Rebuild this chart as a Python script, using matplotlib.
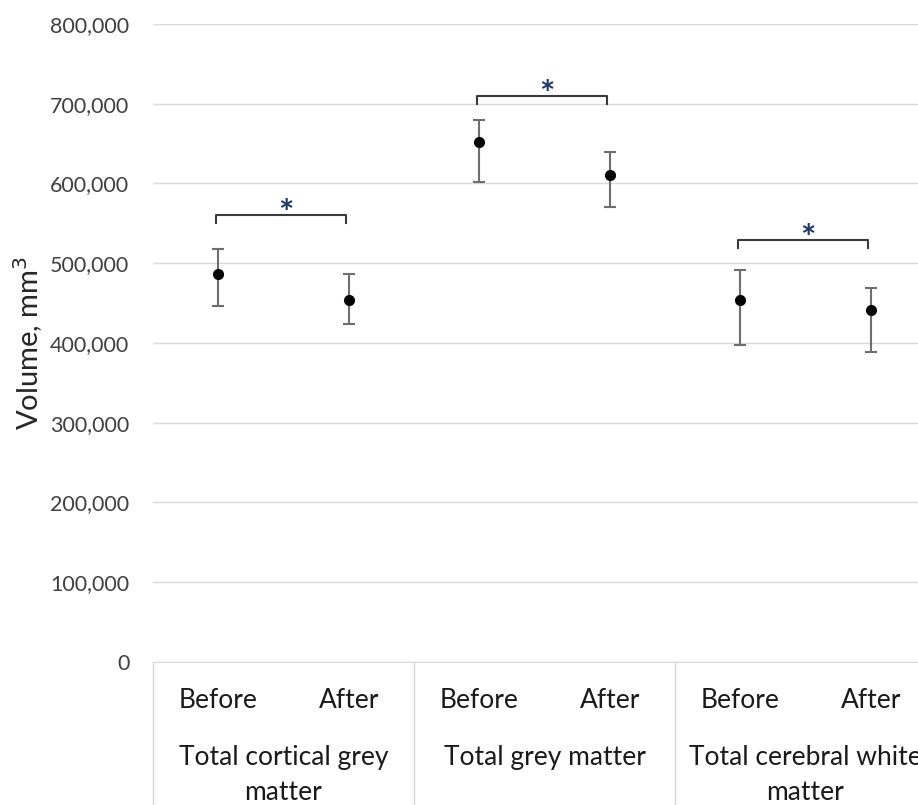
import numpy as np
import matplotlib.pyplot as plt
from matplotlib.ticker import FuncFormatter
import matplotlib.transforms as mtransforms

plt.rcParams['font.family'] = ['Lato', 'DejaVu Sans']

# Volumes (mm^3) before/after, per region
groups = ['Total cortical grey\nmatter', 'Total grey matter', 'Total cerebral white\nmatter']
phases = ['Before', 'After']
means = [486000, 454000, 652000, 611000, 454000, 442000]
upper = [518000, 486000, 680000, 640000, 491000, 469000]
lower = [447000, 424000, 602000, 571000, 397000, 389000]
# height of the significance bracket over each pair
bracket_y = [561000, 710000, 529000]

fig = plt.figure(figsize=(9.18, 8.05), dpi=100)
ax = fig.add_axes([153 / 918, 143 / 805, 783 / 918, 638 / 805])

x = np.arange(len(means)) + 0.5
m = np.array(means)
yerr = [m - np.array(lower), np.array(upper) - m]

ax.errorbar(x, m, yerr=yerr, fmt='o', color='black', markersize=7,
            ecolor='#6e6e6e', elinewidth=1.5, capsize=4.5, capthick=1.5, zorder=3)

# significance brackets
for i, by in enumerate(bracket_y):
    x0, x1 = x[2 * i], x[2 * i + 1]
    drop = 10000
    ax.plot([x0 - 0.02, x0 - 0.02, x1 - 0.02, x1 - 0.02], [by - drop, by, by, by - drop],
            color='#3a3a3a', lw=1.5, zorder=3)
    ax.text((x0 + x1) / 2 + 0.02, by - 13000, '*', ha='center', va='baseline',
            fontsize=26, fontweight='bold', color='#1f3864')

ax.set_xlim(0, 6)
ax.set_ylim(0, 800000)
ax.set_yticks(np.arange(0, 800001, 100000))
ax.yaxis.set_major_formatter(FuncFormatter(lambda v, p: f'{int(v):,}'))
ax.tick_params(axis='y', length=0, pad=17, labelsize=15.5, labelcolor='#404040')
ax.set_xticks([])
ax.grid(axis='y', color='#d9d9d9', lw=1)
ax.set_axisbelow(True)
for s in ['top', 'right', 'left']:
    ax.spines[s].set_visible(False)
ax.spines['bottom'].set_color('#d9d9d9')

ax.set_ylabel('Volume, mm$^3$', fontsize=21, color='#262626', labelpad=4)

# two-level category axis
trans = mtransforms.blended_transform_factory(ax.transData, ax.transAxes)
for k in range(len(groups) + 1):
    ax.plot([2 * k, 2 * k], [0, -0.3], transform=trans, color='#d9d9d9',
            lw=1, clip_on=False)
for j, xi in enumerate(x):
    ax.text(xi, -0.06, phases[j % 2], transform=trans, ha='center', va='center',
            fontsize=19, color='#1a1a1a')
for i, g in enumerate(groups):
    ax.text(2 * i + 1, -0.13, g, transform=trans, ha='center', va='top',
            fontsize=19, color='#1a1a1a', linespacing=1.5)

fig.savefig('out.png', dpi=100)
